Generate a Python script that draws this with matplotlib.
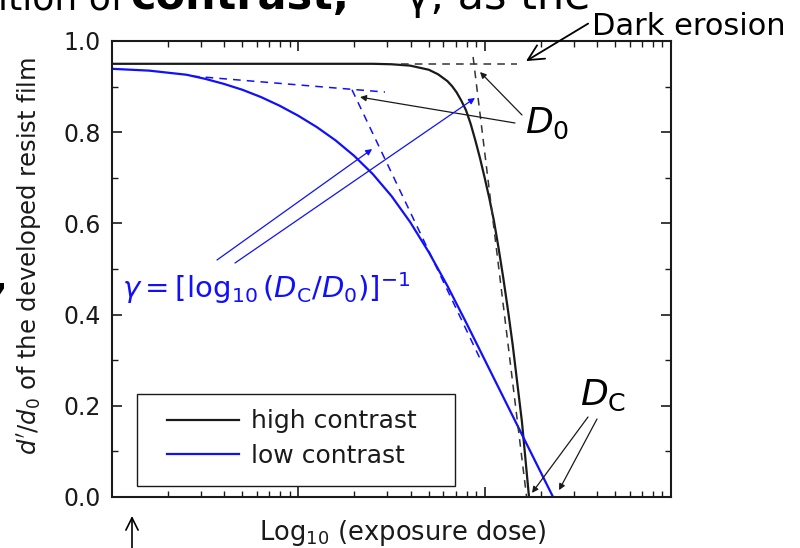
import numpy as np
import matplotlib.pyplot as plt
from matplotlib.patches import Rectangle
from matplotlib.ticker import LogLocator, MultipleLocator, NullFormatter

# curves (x given as log10 of the dose)
log_dose_high = [0.0, 1.0, 1.4, 1.5, 1.6, 1.7, 1.75, 1.8, 1.825, 1.85, 1.875,
                 1.9, 1.925, 1.95, 1.975, 2.0, 2.025, 2.05, 2.075, 2.1, 2.125,
                 2.15, 2.175, 2.2, 2.238]
thick_high = [0.950, 0.950, 0.950, 0.949, 0.946, 0.937, 0.927, 0.912, 0.901,
              0.887, 0.869, 0.848, 0.818, 0.782, 0.743, 0.700, 0.655, 0.605,
              0.545, 0.480, 0.410, 0.335, 0.250, 0.165, 0.0]

log_dose_low = [0.0, 0.2, 0.4, 0.5, 0.6, 0.7, 0.8, 0.9, 1.0, 1.1, 1.2, 1.3,
                1.4, 1.5, 1.6, 1.7, 1.8, 1.9, 2.0, 2.1, 2.2, 2.3, 2.367]
thick_low = [0.939, 0.935, 0.926, 0.917, 0.906, 0.893, 0.877, 0.858, 0.836,
             0.811, 0.782, 0.748, 0.708, 0.660, 0.603, 0.537, 0.463, 0.383,
             0.301, 0.219, 0.137, 0.055, 0.0]

# construction lines (dashed)
erosion_x, erosion_y = [1.55, 2.174], [0.95, 0.95]
steep_high_x, steep_high_y = [1.938, 2.225], [0.965, 0.0]
flat_low_x, flat_low_y = [0.429, 1.465], [0.923, 0.888]
steep_low_x, steep_low_y = [1.288, 1.986], [0.893, 0.294]

BLUE = '#1010ff'
INK = '#1a1a1a'
H = 548


def dose(v):
    return 10 ** np.asarray(v)


def px(x, y):
    # picture pixel (top-left origin) -> figure pixels
    return (x, H - y)


fig = plt.figure(figsize=(8, 5.48), dpi=100)
ax = fig.add_axes([112 / 800, (H - 497) / H, 559 / 800, 456 / H])

ax.plot(dose(log_dose_high), thick_high, color=INK, lw=1.6, label='high contrast')
ax.plot(dose(log_dose_low), thick_low, color=BLUE, lw=1.6, label='low contrast')

ax.plot(dose(erosion_x), erosion_y, '--', color='#333333', lw=1.1, dashes=(5, 4))
ax.plot(dose(steep_high_x), steep_high_y, '--', color='#333333', lw=1.1, dashes=(5, 4))
ax.plot(dose(flat_low_x), flat_low_y, '--', color=BLUE, lw=1.1, dashes=(5, 4))
ax.plot(dose(steep_low_x), steep_low_y, '--', color=BLUE, lw=1.1, dashes=(5, 4))

ax.set_xscale('log')
ax.set_xlim(1, 1000)
ax.set_ylim(0, 1.0)
ax.xaxis.set_major_locator(LogLocator(base=10, numticks=10))
ax.xaxis.set_minor_locator(LogLocator(base=10, subs=np.arange(2, 10), numticks=20))
ax.xaxis.set_major_formatter(NullFormatter())
ax.xaxis.set_minor_formatter(NullFormatter())
ax.yaxis.set_major_locator(MultipleLocator(0.2))
ax.yaxis.set_minor_locator(MultipleLocator(0.1))
ax.yaxis.set_major_formatter(lambda v, p: f"{v:.1f}")

ax.tick_params(which='both', direction='in', top=True, right=True, color=INK,
               labelsize=17, labelcolor=INK, pad=8)
ax.tick_params(which='major', length=7, width=1.2)
ax.tick_params(which='minor', length=4.5, width=1.0)
for s in ax.spines.values():
    s.set_linewidth(1.5)
    s.set_color(INK)

ax.set_xlabel('Log$_{10}$ (exposure dose)', fontsize=18.5, color=INK)
ax.xaxis.set_label_coords(0.52, -0.045)
ax.xaxis.label.set_va('top')
ax.set_ylabel("$d'/d_0$ of the developed resist film", fontsize=17.5, color=INK)
ax.yaxis.set_label_coords(-0.122, 0.528)

# legend: box drawn separately so its padding can follow the picture
ax.add_patch(Rectangle((0.045, 0.024), 0.569, 0.202, transform=ax.transAxes,
                       fill=False, ec=INK, lw=1.0, zorder=4))
leg = ax.legend(loc='center left', bbox_to_anchor=(0.098, 0.128),
                borderaxespad=0, borderpad=0, frameon=False,
                fontsize=18, handlelength=2.9, handletextpad=0.45,
                labelspacing=0.42)
for t in leg.get_texts():
    t.set_color(INK)

# annotations
thin = dict(arrowstyle='-|>', color=INK, lw=0.9, shrinkA=0, shrinkB=0,
            mutation_scale=9)
thin_blue = dict(thin, color=BLUE)

ax.annotate('Dark erosion', xy=(dose(2.222), 0.956), xycoords='data',
            xytext=px(592, 35), textcoords='figure pixels', fontsize=22,
            color='black', ha='left', va='baseline', annotation_clip=False,
            arrowprops=dict(arrowstyle='->', color='black', lw=1.3,
                            shrinkA=0, shrinkB=0, mutation_scale=28,
                            relpos=(-0.02, 0.6)))

ax.annotate('', xy=(dose(1.975), 0.932), xytext=px(522, 115),
            textcoords='figure pixels', arrowprops=thin, annotation_clip=False)
ax.annotate('', xy=(dose(1.331), 0.877), xytext=px(515, 123),
            textcoords='figure pixels', arrowprops=thin, annotation_clip=False)
fig.text(525 / 800, 1 - 133 / H, '$D_0$', fontsize=26, color='black',
         ha='left', va='baseline')

ax.annotate('', xy=(dose(1.396), 0.763), xytext=px(217, 260),
            textcoords='figure pixels', arrowprops=thin_blue, annotation_clip=False)
ax.annotate('', xy=(dose(1.948), 0.875), xytext=px(235, 263),
            textcoords='figure pixels', arrowprops=thin_blue, annotation_clip=False)
fig.text(122 / 800, 1 - 298 / H, r'$\gamma = [\log_{10}(D_\mathrm{C}/D_0)]^{-1}$',
         fontsize=21, color=BLUE, ha='left', va='baseline')

ax.annotate('', xy=(dose(2.254), 0.009), xytext=px(588, 417),
            textcoords='figure pixels', arrowprops=thin, annotation_clip=False)
ax.annotate('', xy=(dose(2.399), 0.015), xytext=px(597, 419),
            textcoords='figure pixels', arrowprops=thin, annotation_clip=False)
fig.text(580 / 800, 1 - 405 / H, r'$D_\mathrm{C}$', fontsize=26, color='black',
         ha='left', va='baseline')

# arrow below the axis (slide residue)
ax.annotate('', xy=px(132, 516), xycoords='figure pixels', xytext=px(132, 550),
            textcoords='figure pixels',
            arrowprops=dict(arrowstyle='->', color='black', lw=1.2,
                            shrinkA=0, shrinkB=0, mutation_scale=22))

# clipped slide title at the very top
fig.text(-2 / 800, 1 - 9 / H, 'ition of', fontsize=26, color='black',
         ha='left', va='baseline')
fig.text(130 / 800, 1 - 9 / H, 'contrast,', fontsize=31, fontweight='bold',
         color='black', ha='left', va='baseline')
fig.text(405 / 800, 1 - 9 / H, '\u03b3, as the', fontsize=31, color='black',
         ha='left', va='baseline')
fig.text(-7 / 800, 1 - 290 / H, ',', fontsize=26, fontweight='bold',
         color='black', ha='left', va='baseline')

fig.savefig('out.png', dpi=100)
